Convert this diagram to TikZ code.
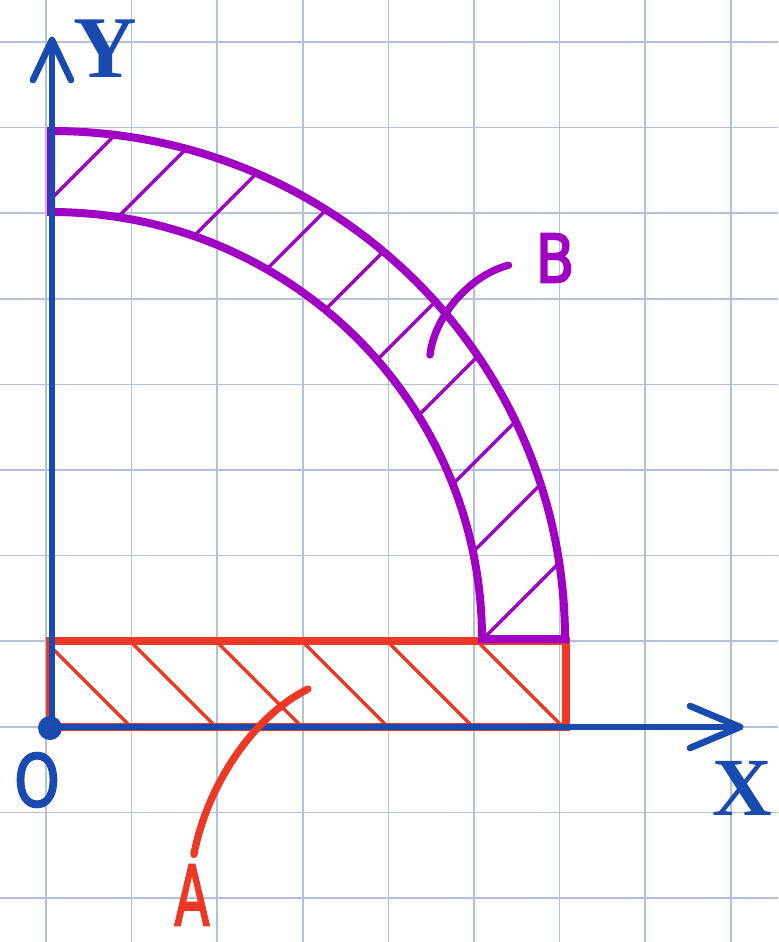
\documentclass[tikz,border=0pt]{standalone}
\usepackage{fontspec}
\newfontfamily\handsans[FakeBold=3]{DejaVu Sans}
\newfontfamily\handserif{Liberation Serif}
\definecolor{gridc}{RGB}{178,194,218}
\definecolor{axisblue}{RGB}{25,74,176}
\definecolor{purp}{RGB}{160,0,195}
\definecolor{redc}{RGB}{236,56,36}
\begin{document}
\begin{tikzpicture}[x=0.75pt,y=-0.75pt,
  gridline/.style={draw=gridc,line width=1.1pt},
  redthick/.style={draw=redc,line width=6pt,line join=miter},
  redhatch/.style={draw=redc,line width=2.6pt},
  purpthick/.style={draw=purp,line width=6pt,line join=miter},
  purphatch/.style={draw=purp,line width=2.6pt},
  axisline/.style={draw=axisblue,line width=5pt,line cap=round,line join=round},
  lead/.style={line width=5.5pt,line cap=round},
  lab/.style={inner sep=0pt,outer sep=0pt}]
\useasboundingbox (0,0) rectangle (778,942);
\fill[white] (0,0) rectangle (778,942);
% grid
\foreach \k in {0,...,8} \draw[gridline] ({46+85.6*\k},0) -- ({46+85.6*\k},942);
\foreach \k in {0,...,10} \draw[gridline] (0,{42+85.6*\k}) -- (778,{42+85.6*\k});
% region A (red rectangle, hatched)
\begin{scope}
  \clip (50,641) rectangle (566,727);
  \foreach \c in {-596,-511,-425,-339,-254,-164}
    \draw[redhatch] ({\c+600},600) -- ({\c+760},760);
\end{scope}
\draw[redthick] (50,641) rectangle (566,727);
% region B (purple quarter ring, hatched)
\begin{scope}
  \clip (51,131) arc[start angle=-90,end angle=0,x radius=514,y radius=508]
     -- (482,639) arc[start angle=0,end angle=-90,x radius=431,y radius=427] -- cycle;
  \foreach \c in {250,335,430,536,635,737,834,937,1025,1122}
    \draw[purphatch] ({\c-700},700) -- (\c,0);
\end{scope}
\draw[purpthick] (51,131) arc[start angle=-90,end angle=0,x radius=514,y radius=508]
     -- (482,639) arc[start angle=0,end angle=-90,x radius=431,y radius=427] -- cycle;
% axes
\coordinate (orig) at (51,727);
\coordinate (xend) at (740,727);
\coordinate (yend) at (52,40);
\coordinate (ybase) at (52,730);
\draw[axisline] (ybase) -- (yend);
\draw[axisline] (33,80) -- (yend) -- (71,80);
\draw[axisline] (orig) -- (xend);
\draw[axisline] (690,706) -- (xend) -- (690,748);
\node[circle,fill=axisblue,inner sep=0pt,minimum size=18pt] (dot) at (50,728) {};
% labels
\node[lab,text=axisblue,font=\handserif\bfseries\fontsize{66}{66}\selectfont] (labY) at (105,49) {Y};
\node[lab,text=axisblue,font=\handserif\bfseries\fontsize{62}{62}\selectfont] (labX) at (742,788) {X};
\node[lab,text=axisblue,font=\handsans\fontsize{54}{54}\selectfont,xscale=0.8] (labO) at (37,780) {O};
\node[lab,text=redc,font=\handsans\fontsize{62}{62}\selectfont,xscale=0.62] (labA) at (192,895) {A};
\node[lab,text=purp,font=\handsans\fontsize{50}{50}\selectfont,xscale=0.85] (labB) at (555,258) {B};
% leaders
\coordinate (aTip) at (308,689);
\coordinate (bTip) at (430,355);
\draw[lead,draw=redc,shorten >=8pt] (aTip) .. controls (250,718) and (206,790) .. (labA.north);
\draw[lead,draw=purp,shorten >=21pt] (bTip) .. controls (434,318) and (468,276) .. (labB.west);
\end{tikzpicture}
\end{document}
